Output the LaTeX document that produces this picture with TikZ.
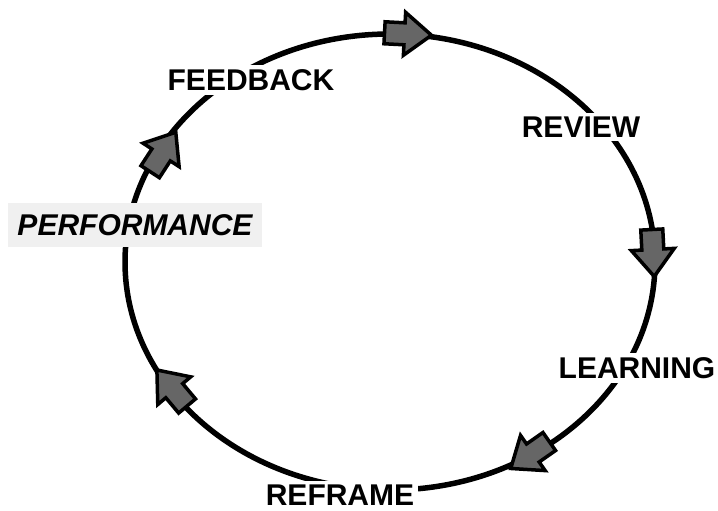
\documentclass[tikz,border=0pt]{standalone}
\usepackage{fontspec}
\setmainfont{Liberation Sans}
\begin{document}
\begin{tikzpicture}[x=1pt,y=1pt,
  lbl/.style={font=\fontsize{30}{36}\selectfont\bfseries, fill=white, inner sep=4pt},
  ring/.style={line width=5.5pt},
  blockarrow/.pic={\draw[line width=3.5pt, fill=black!60, line join=miter]
     (-23.5,-11) -- (-3.5,-11) -- (-3.5,-21.5) -- (23.5,0) -- (-3.5,21.5) -- (-3.5,11) -- (-23.5,11) -- cycle;}]
\useasboundingbox (0,0) rectangle (718,511);
\draw[ring] (390,249) ellipse [x radius=265, y radius=228];
\node[lbl] (fb) at (251,431) {FEEDBACK};
\node[lbl] (rv) at (581,384) {REVIEW};
\node[lbl] (ln) at (637,143) {LEARNING};
\node[lbl] (rf) at (340,16) {REFRAME};
\node[lbl, fill=gray!12, minimum width=254, minimum height=44, inner sep=0pt,
      font=\fontsize{30}{36}\selectfont\bfseries\itshape] (perf) at (135,286) {PERFORMANCE};
\pic[rotate=-3] at (408,477) {blockarrow};
\pic[rotate=-87] at (653,258) {blockarrow};
\pic[rotate=215] at (530,56) {blockarrow};
\pic[rotate=130] at (172,123) {blockarrow};
\pic[rotate=57] at (163,359) {blockarrow};
\end{tikzpicture}
\end{document}
